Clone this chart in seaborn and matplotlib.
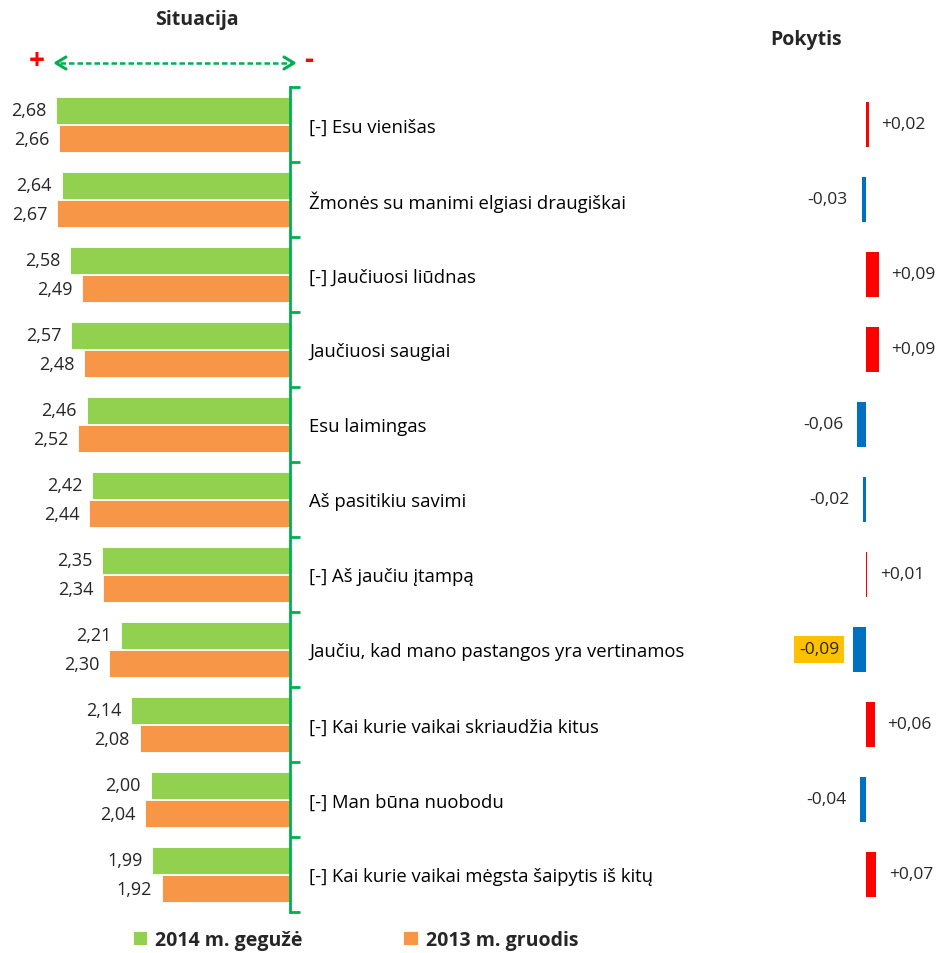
import matplotlib
matplotlib.use("Agg")
import matplotlib.pyplot as plt
from matplotlib.lines import Line2D
import seaborn as sns
import pandas as pd
import numpy as np

categories = [
    "[-] Esu vienišas",
    "Žmonės su manimi elgiasi draugiškai",
    "[-] Jaučiuosi liūdnas",
    "Jaučiuosi saugiai",
    "Esu laimingas",
    "Aš pasitikiu savimi",
    "[-] Aš jaučiu įtampą",
    "Jaučiu, kad mano pastangos yra vertinamos",
    "[-] Kai kurie vaikai skriaudžia kitus",
    "[-] Man būna nuobodu",
    "[-] Kai kurie vaikai mėgsta šaipytis iš kitų",
]
series_names = ["2014 m. gegužė", "2013 m. gruodis"]
values_2014 = [2.68, 2.64, 2.58, 2.57, 2.46, 2.42, 2.35, 2.21, 2.14, 2.00, 1.99]
values_2013 = [2.66, 2.67, 2.49, 2.48, 2.52, 2.44, 2.34, 2.30, 2.08, 2.04, 1.92]
change = [0.02, -0.03, 0.09, 0.09, -0.06, -0.02, 0.01, -0.09, 0.06, -0.04, 0.07]

GREEN = "#92D050"
ORANGE = "#F79646"
RED = "#FF0000"
BLUE = "#0070C0"
LINE_GREEN = "#00B050"

sns.set_theme(style="white")
plt.rcParams["font.family"] = ["Open Sans", "DejaVu Sans"]

df = pd.DataFrame({
    "cat": categories * 2,
    "value": values_2014 + values_2013,
    "series": [series_names[0]] * len(categories) + [series_names[1]] * len(categories),
})
dfc = pd.DataFrame({
    "cat": categories,
    "change": change,
    "sign": ["pos" if c > 0 else "neg" for c in change],
})

fig = plt.figure(figsize=(9.36, 9.54), dpi=100)
W, H = 936, 954
ax1 = fig.add_axes([49 / W, 41 / H, (290 - 49) / W, 825 / H])
ax2 = fig.add_axes([700 / W, 41 / H, 236 / W, 825 / H])

sns.barplot(data=df, y="cat", x="value", hue="series", orient="h", ax=ax1,
            palette=[GREEN, ORANGE], width=0.76, gap=0.05, saturation=1,
            edgecolor="white", linewidth=0.6)
ax1.set_xlim(2.73, 1.0)
ax1.set_ylim(10.5, -0.5)
ax1.set_xlabel("")
ax1.set_ylabel("")
ax1.set_xticks([])
handles, labels = ax1.get_legend_handles_labels()
ax1.get_legend().remove()

for cont, vals in zip(ax1.containers, [values_2014, values_2013]):
    ax1.bar_label(cont, labels=[f"{v:.2f}".replace(".", ",") for v in vals],
                  padding=7, fontsize=13)

for s in ["top", "bottom", "left"]:
    ax1.spines[s].set_visible(False)
ax1.spines["right"].set_color(LINE_GREEN)
ax1.spines["right"].set_linewidth(2)
ax1.yaxis.tick_right()
ax1.set_yticks(np.arange(len(categories)))
ax1.set_yticklabels(categories)
ax1.set_yticks(np.arange(-0.5, len(categories)), minor=True)
ax1.tick_params(axis="y", which="major", length=0, pad=14, labelsize=13.3,
                labelcolor="black", right=False, labelright=True, left=False, labelleft=False)
ax1.tick_params(axis="y", which="minor", length=7, width=2, color=LINE_GREEN,
                direction="out", right=True, left=False)

sns.barplot(data=dfc, y="cat", x="change", hue="sign", orient="h", ax=ax2,
            palette={"pos": RED, "neg": BLUE}, dodge=False, width=0.61,
            saturation=1, legend=False, linewidth=0)
ax2.set_xlim(-166 / 145, 70 / 145)
ax2.set_ylim(10.5, -0.5)
ax2.axis("off")
for i, c in enumerate(change):
    txt = f"{c:+.2f}".replace(".", ",")
    kw = {}
    if c == min(change):
        kw["bbox"] = dict(boxstyle="square,pad=0.3", fc="#FFC000", ec="none")
    ax2.annotate(txt, (c, i), xytext=(9 if c > 0 else -10, 0), textcoords="offset points",
                 ha="left" if c > 0 else "right", va="center", fontsize=12.5, **kw)

# titles
fig.text(197 / W, 1 - 20 / H, "Situacija", ha="center", va="center", fontsize=14, fontweight="bold")
fig.text(806 / W, 1 - 40 / H, "Pokytis", ha="center", va="center", fontsize=14, fontweight="bold")

# plus / minus and arrow
fig.text(37 / W, 1 - 62 / H, "+", ha="center", va="center", fontsize=20, fontweight="bold", color=RED)
fig.text(309 / W, 1 - 60 / H, "-", ha="center", va="center", fontsize=20, fontweight="bold", color=RED)
y0 = 1 - 64 / H
fig.add_artist(Line2D([60 / W, 292 / W], [y0, y0], color=LINE_GREEN, lw=1.8, ls=(0, (2.2, 1.2))))
fig.add_artist(Line2D([66 / W, 56 / W, 66 / W], [y0 + 6 / H, y0, y0 - 6 / H], color=LINE_GREEN, lw=2.2))
fig.add_artist(Line2D([284 / W, 294 / W, 284 / W], [y0 + 6 / H, y0, y0 - 6 / H], color=LINE_GREEN, lw=2.2))

leg = fig.legend(handles, labels, loc="center left", bbox_to_anchor=(115 / W, 1 - 941 / H),
                 ncol=2, frameon=False, handlelength=0.75, handleheight=0.75, handletextpad=0.4,
                 columnspacing=5.2, prop={"weight": "bold", "size": 14})

fig.savefig("out.png", dpi=100)
